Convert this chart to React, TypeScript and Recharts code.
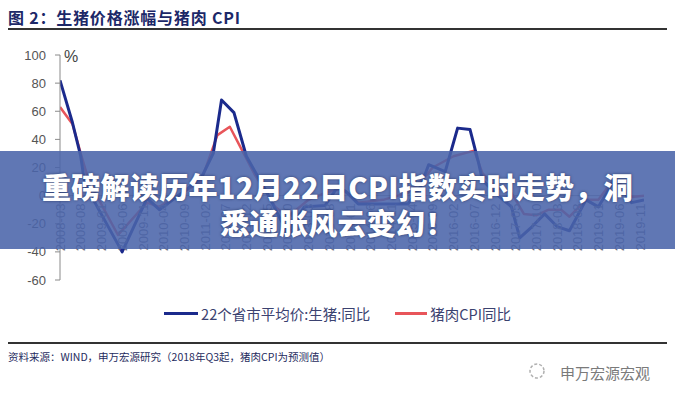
import React from 'react';
import { LineChart, Line, XAxis, YAxis, ReferenceLine } from 'recharts';

// ---- data ----
const tickLabels = [
  '2008-03', '2008-08', '2009-01', '2009-06', '2009-11', '2010-04', '2010-09', '2011-02',
  '2011-07', '2011-12', '2012-05', '2012-10', '2013-03', '2013-08', '2014-01', '2014-06',
  '2014-11', '2015-04', '2015-09', '2016-02', '2016-07', '2016-12', '2017-05', '2017-10',
  '2018-03', '2018-08', '2019-01', '2019-06', '2019-11',
];
const yTicks = [-60, -40, -20, 0, 20, 40, 60, 80, 100];

// month index counted from 2008-03
const hogMonths = [0, 3, 5, 6, 15, 21, 24, 34, 37, 39, 42, 45, 50, 55, 59, 64, 67, 69, 72, 78, 84, 87, 89, 93, 96, 99, 101, 102, 105, 109, 111, 114, 117, 120, 123, 127, 130, 132, 134, 138, 141];
const hogValues = [82, 52, 28, 8, -40, -2, -10, 12, 30, 68, 59, 28, 2, -27, -8, -7, 6, 3, -6, -6, -6, 6, 22, 17, 48, 47, 24, 11, 2, -8, -30, -22, -13, -22, -25, -3, -8, 2, 12, -5, -3];

const cpiMonths = [0, 3, 5, 7, 14, 21, 24, 34, 38, 41, 44, 47, 52, 55, 60, 64, 68, 72, 78, 84, 88, 90, 95, 100, 102, 105, 109, 112, 115, 118, 121, 123, 127, 130, 133, 134, 138, 141];
const cpiValues = [63, 51, 30, 10, -28, -5, -8, 10, 43, 49, 32, 15, -8, -15, -3, 2, 5, -5, -3, 2, 13, 20, 28, 32, 16, 6, 2, -13, -14, -10, -10, -15, -3, -3, 9, 13, -1, 0];

const seriesNames = ['22个省市平均价:生猪:同比', '猪肉CPI同比'];

const hogData = hogMonths.map((m, i) => ({ m, v: hogValues[i] }));
const cpiData = cpiMonths.map((m, i) => ({ m, v: cpiValues[i] }));
const xTicks = tickLabels.map((_, i) => i * 5);

// ---- layout ----
const W = 675;
const H = 400;
const MARGIN = { top: 55, right: 31, left: 10, bottom: 90 };
const X_AXIS_H = 30;
const Y_MIN = -60;
const Y_MAX = 100;
const PLOT_H = H - MARGIN.top - MARGIN.bottom - X_AXIS_H;
const BLUE = '#1b2a8c';
const RED = '#e8555a';
const SANS = '"Liberation Sans", Arial, sans-serif';
const CJK = '"Noto Sans CJK SC", "Noto Sans", sans-serif';

const XTick = (props: any) => {
  const { x, payload } = props;
  const y0 = MARGIN.top + ((Y_MAX - 0) / (Y_MAX - Y_MIN)) * PLOT_H;
  const label = tickLabels[Math.round(payload.value / 5)];
  return (
    <g transform={`translate(${x},${y0 + 8})`}>
      <text transform="rotate(-90)" textAnchor="end" dy="0.36em" fontSize={13} fill="#6d6d7d" fontFamily={SANS}>
        {label}
      </text>
    </g>
  );
};

export default function App() {
  return (
    <div style={{ position: 'absolute', left: 0, top: 0, width: W, height: H, background: '#fff', overflow: 'hidden' }}>
      {/* title */}
      <div style={{ position: 'absolute', left: 8, top: 5, fontFamily: CJK, fontWeight: 700, fontSize: 16, color: '#1c2868', whiteSpace: 'nowrap', letterSpacing: 0.8 }}>
        图 2：生猪价格涨幅与猪肉 CPI
      </div>
      <div style={{ position: 'absolute', left: 8, top: 28, width: 659, height: 2, background: '#333' }} />

      <LineChart width={W} height={H} margin={MARGIN} style={{ position: 'absolute', left: 0, top: 0 }}>
        <XAxis
          dataKey="m"
          type="number"
          domain={[0, 141]}
          ticks={xTicks}
          interval={0}
          height={X_AXIS_H}
          axisLine={false}
          tickLine={false}
          tick={<XTick />}
          allowDataOverflow
        />
        <YAxis
          type="number"
          domain={[Y_MIN, Y_MAX]}
          ticks={yTicks}
          interval={0}
          width={50}
          stroke="#8a8a8a"
          tickSize={5}
          tickMargin={9}
          tick={{ fill: '#555', fontSize: 13, fontFamily: SANS }}
        />
        <ReferenceLine y={0} stroke="#a0a0a0" strokeWidth={1} />
        <Line data={cpiData} dataKey="v" type="linear" stroke={RED} strokeWidth={2.5} dot={false} isAnimationActive={false} strokeLinejoin="round" />
        <Line data={hogData} dataKey="v" type="linear" stroke={BLUE} strokeWidth={3} dot={false} isAnimationActive={false} strokeLinejoin="round" />
      </LineChart>

      {/* % unit */}
      <div style={{ position: 'absolute', left: 64, top: 48, fontFamily: SANS, fontSize: 16, color: '#444' }}>%</div>

      {/* banner overlay */}
      <div
        style={{
          position: 'absolute', left: 0, top: 151, width: W, height: 98,
          background: 'rgba(74,100,170,0.88)', color: '#fff', fontFamily: CJK, fontWeight: 900,
          fontSize: 29, lineHeight: '36px', textAlign: 'center', paddingTop: 17, boxSizing: 'border-box',
          textShadow: '0 0 3px rgba(10,20,60,0.6)', whiteSpace: 'nowrap', letterSpacing: 0.3,
        }}
      >
        <div>重磅解读历年12月22日CPI指数实时走势，洞</div>
        <div>悉通胀风云变幻！</div>
      </div>

      {/* legend */}
      <div style={{ position: 'absolute', left: 0, top: 303, width: W, display: 'flex', justifyContent: 'center', alignItems: 'center', fontFamily: CJK, fontSize: 14.5, color: '#3b4270' }}>
        <span style={{ display: 'inline-block', width: 34, height: 3, background: BLUE, marginRight: 3 }} />
        <span>{seriesNames[0]}</span>
        <span style={{ display: 'inline-block', width: 32, height: 3, background: RED, marginLeft: 25, marginRight: 3 }} />
        <span>{seriesNames[1]}</span>
      </div>

      {/* source */}
      <div style={{ position: 'absolute', left: 8, top: 342, width: 659, height: 1.5, background: '#333' }} />
      <div style={{ position: 'absolute', left: 8, top: 349, fontFamily: CJK, fontSize: 10.5, color: '#1f2c5e', whiteSpace: 'nowrap' }}>
        资料来源：WIND，申万宏源研究（2018年Q3起，猪肉CPI为预测值）
      </div>
      <svg style={{ position: 'absolute', left: 528, top: 362 }} width={20} height={20}>
        <circle cx={9} cy={9} r={7} fill="none" stroke="#b0b0b0" strokeWidth={1.5} strokeDasharray="3 2" />
      </svg>
      <div style={{ position: 'absolute', left: 560, top: 362, fontFamily: CJK, fontSize: 15, color: '#7a7a7a', whiteSpace: 'nowrap' }}>
        申万宏源宏观
      </div>
    </div>
  );
}
